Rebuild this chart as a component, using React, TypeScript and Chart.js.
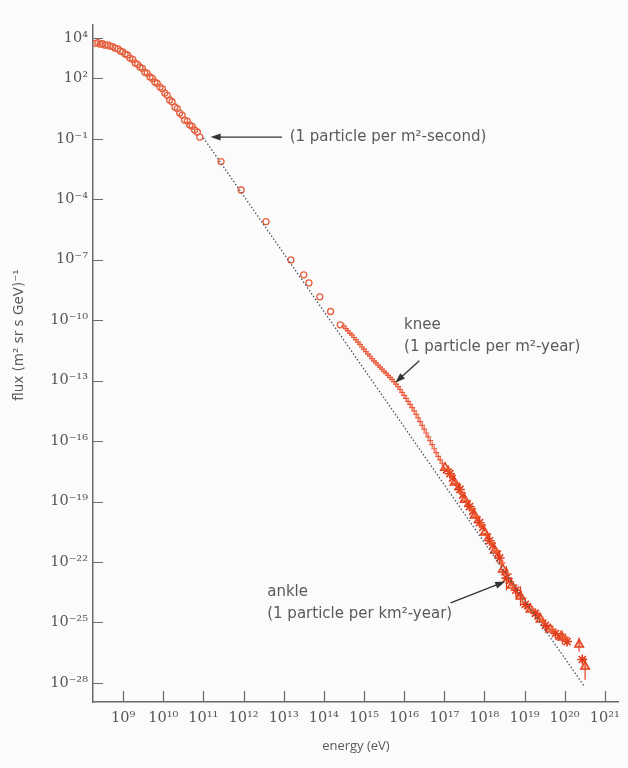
import React, { useEffect, useRef } from "react";
import { Chart, registerables } from "chart.js";

Chart.register(...registerables);

// ---- axis ticks (exponents of ten) ----
const xTickExponents = [9, 10, 11, 12, 13, 14, 15, 16, 17, 18, 19, 20, 21];
const yTickExponents = [4, 2, -1, -4, -7, -10, -13, -16, -19, -22, -25, -28];

// ---- data: log10(energy / eV), log10(flux) ----
const lowLogE = [8.31, 8.37, 8.43, 8.49, 8.55, 8.62, 8.68, 8.74, 8.8, 8.87, 8.93, 8.99, 9.05, 9.11, 9.17, 9.24, 9.3, 9.36, 9.42, 9.48, 9.54, 9.6, 9.67, 9.73, 9.79, 9.85, 9.92, 9.98, 10.04, 10.1, 10.16, 10.22, 10.29, 10.35, 10.41, 10.47, 10.53, 10.6, 10.66, 10.72, 10.78, 10.85, 10.91];
const lowLogFlux = [3.74, 3.78, 3.7, 3.72, 3.65, 3.66, 3.6, 3.58, 3.5, 3.47, 3.36, 3.32, 3.21, 3.16, 3.01, 2.94, 2.76, 2.7, 2.56, 2.5, 2.31, 2.25, 2.07, 2.0, 1.82, 1.75, 1.57, 1.48, 1.27, 1.16, 0.93, 0.84, 0.58, 0.5, 0.28, 0.18, -0.07, -0.12, -0.31, -0.38, -0.56, -0.66, -0.91];

const midLogE = [11.44, 11.94, 12.56, 13.18, 13.5, 13.63, 13.9, 14.17, 14.41];
const midLogFlux = [-2.13, -3.54, -5.11, -7.01, -7.75, -8.15, -8.84, -9.57, -10.23];

const kneeLogE = [14.5, 14.55, 14.6, 14.65, 14.7, 14.75, 14.8, 14.85, 14.9, 14.95, 15.0, 15.05, 15.1, 15.15, 15.2, 15.25, 15.3, 15.35, 15.4, 15.45, 15.5, 15.55, 15.6, 15.65, 15.7, 15.75, 15.8, 15.85, 15.9, 15.95, 16.0, 16.05, 16.1, 16.15, 16.2, 16.25, 16.3, 16.35, 16.4, 16.45, 16.5, 16.55, 16.6, 16.65, 16.7, 16.75, 16.8, 16.85, 16.9, 16.95];
const kneeLogFlux = [-10.3, -10.42, -10.52, -10.64, -10.73, -10.86, -10.97, -11.09, -11.2, -11.33, -11.44, -11.56, -11.68, -11.79, -11.91, -12.02, -12.12, -12.23, -12.33, -12.43, -12.54, -12.63, -12.74, -12.84, -12.94, -13.05, -13.17, -13.3, -13.44, -13.58, -13.73, -13.88, -14.03, -14.18, -14.34, -14.5, -14.67, -14.85, -15.03, -15.22, -15.41, -15.6, -15.79, -15.98, -16.18, -16.38, -16.57, -16.76, -16.93, -17.1];

const highALogE = [17.02, 17.26, 17.51, 17.76, 18.01, 18.26, 18.46, 18.68, 18.9, 19.15, 19.4, 19.64, 19.94, 20.36, 20.51];
const highALogFlux = [-17.32, -18.06, -18.91, -19.7, -20.54, -21.43, -22.37, -23.17, -23.71, -24.36, -24.85, -25.35, -25.75, -26.1, -27.19];

const highBLogE = [17.14, 17.39, 17.63, 17.88, 18.13, 18.38, 18.55, 18.78, 19.02, 19.27, 19.52, 19.77, 20.06, 20.44];
const highBLogFlux = [-17.62, -18.4, -19.25, -20.05, -20.95, -21.8, -22.8, -23.4, -24.1, -24.55, -25.15, -25.55, -25.95, -26.84];

const highCLogE = [17.05, 17.2, 17.33, 17.45, 17.58, 17.7, 17.82, 17.95, 18.08, 18.2, 18.33, 18.5, 18.62, 18.85, 19.08, 19.33, 19.58, 19.85];
const highCLogFlux = [-17.45, -17.85, -18.28, -18.7, -19.1, -19.5, -19.9, -20.3, -20.75, -21.2, -21.6, -22.5, -22.95, -23.6, -24.2, -24.7, -25.25, -25.7];

const highDLogE = [17.1, 17.18, 17.3, 17.42, 17.55, 17.68, 17.8, 17.92, 18.05, 18.17, 18.3, 18.42, 18.58, 18.72, 18.95, 19.2, 19.45, 19.7, 19.9, 20.02];
const highDLogFlux = [-17.4, -17.7, -18.1, -18.55, -18.95, -19.35, -19.75, -20.15, -20.6, -21.05, -21.45, -22.05, -22.6, -23.15, -23.8, -24.4, -24.9, -25.35, -25.6, -25.75];

// error bars (log10 energy, low / high log10 flux)
const errLogE = [18.55, 18.9, 19.94, 20.36, 20.51];
const errLogLow = [-23.4, -24.2, -26.1, -26.45, -27.85];
const errLogHigh = [-22.2, -23.2, -25.4, -25.75, -26.75];

// reference power-law (dotted)
const refLogE = [11.0, 20.5];
const refLogFlux = [-0.95, -28.2];

// annotation texts
const annotationTexts = [
  ["(1 particle per m\u00B2-second)"],
  ["knee", "(1 particle per m\u00B2-year)"],
  ["ankle", "(1 particle per km\u00B2-year)"],
];

// annotation placement (log10 coords): text anchor, arrow start, arrow tip
const annotationLayout = [
  { tx: 13.15, ty: -0.91, ax: 12.96, ay: -0.91, bx: 11.18, by: -0.91 },
  { tx: 16.0, ty: -10.23, ax: 16.38, ay: -12.01, bx: 15.78, by: -13.1 },
  { tx: 12.59, ty: -23.52, ax: 17.16, ay: -24.03, bx: 18.52, by: -22.97 },
];

const SUP: Record<string, string> = {
  "0": "\u2070", "1": "\u00B9", "2": "\u00B2", "3": "\u00B3", "4": "\u2074",
  "5": "\u2075", "6": "\u2076", "7": "\u2077", "8": "\u2078", "9": "\u2079", "-": "\u207B",
};
const pow10Label = (v: number) => {
  const e = Math.round(Math.log10(v));
  return "10" + String(e).split("").map((c) => SUP[c] || c).join("");
};

const pts = (xs: number[], ys: number[]) => xs.map((x, i) => ({ x: 10 ** x, y: 10 ** ys[i] }));

const bgPlugin = {
  id: "bg",
  beforeDraw(chart: any) {
    const { ctx, width, height } = chart;
    ctx.save();
    ctx.fillStyle = "#fbfbfb";
    ctx.fillRect(0, 0, width, height);
    ctx.restore();
  },
};

const innerTicksPlugin = {
  id: "innerTicks",
  beforeDatasetsDraw(chart: any) {
    const { ctx, chartArea, scales } = chart;
    const x = scales.x, y = scales.y;
    ctx.save();
    ctx.strokeStyle = "#6a6a6a";
    ctx.lineWidth = 1.2;
    ctx.beginPath();
    y.ticks.forEach((t: any) => {
      const py = Math.round(y.getPixelForValue(t.value)) + 0.5;
      ctx.moveTo(chartArea.left, py);
      ctx.lineTo(chartArea.left + 10, py);
    });
    x.ticks.forEach((t: any) => {
      const px = Math.round(x.getPixelForValue(t.value)) + 0.5;
      ctx.moveTo(px, chartArea.bottom);
      ctx.lineTo(px, chartArea.bottom - 11);
    });
    ctx.stroke();
    ctx.restore();
  },
};

const errorBarPlugin = {
  id: "errBars",
  afterDatasetsDraw(chart: any) {
    const { ctx, scales } = chart;
    ctx.save();
    ctx.strokeStyle = "#e0401e";
    ctx.lineWidth = 1.2;
    ctx.beginPath();
    errLogE.forEach((e, i) => {
      const px = scales.x.getPixelForValue(10 ** e);
      ctx.moveTo(px, scales.y.getPixelForValue(10 ** errLogLow[i]));
      ctx.lineTo(px, scales.y.getPixelForValue(10 ** errLogHigh[i]));
    });
    ctx.stroke();
    ctx.restore();
  },
};

const annotationPlugin = {
  id: "annotations",
  afterDatasetsDraw(chart: any) {
    const { ctx, scales } = chart;
    const X = (v: number) => scales.x.getPixelForValue(10 ** v);
    const Y = (v: number) => scales.y.getPixelForValue(10 ** v);
    ctx.save();
    ctx.font = '15px "DejaVu Sans"';
    ctx.fillStyle = "#5a5a5a";
    ctx.textAlign = "left";
    ctx.textBaseline = "middle";
    annotationTexts.forEach((lines, i) => {
      const L = annotationLayout[i];
      lines.forEach((line, j) => ctx.fillText(line, X(L.tx), Y(L.ty) + j * 22));
      const x0 = X(L.ax), y0 = Y(L.ay), x1 = X(L.bx), y1 = Y(L.by);
      const ang = Math.atan2(y1 - y0, x1 - x0);
      const head = 10, hw = 3.5;
      ctx.strokeStyle = "#333";
      ctx.lineWidth = 1.3;
      ctx.beginPath();
      ctx.moveTo(x0, y0);
      ctx.lineTo(x1 - head * 0.8 * Math.cos(ang), y1 - head * 0.8 * Math.sin(ang));
      ctx.stroke();
      ctx.fillStyle = "#333";
      ctx.beginPath();
      ctx.moveTo(x1, y1);
      ctx.lineTo(x1 - head * Math.cos(ang) + hw * Math.sin(ang), y1 - head * Math.sin(ang) - hw * Math.cos(ang));
      ctx.lineTo(x1 - head * Math.cos(ang) - hw * Math.sin(ang), y1 - head * Math.sin(ang) + hw * Math.cos(ang));
      ctx.closePath();
      ctx.fill();
      ctx.fillStyle = "#5a5a5a";
    });
    // y axis title
    ctx.translate(19, 335);
    ctx.rotate(-Math.PI / 2);
    ctx.textAlign = "center";
    ctx.font = '13.5px "DejaVu Sans"';
    ctx.fillText("flux (m\u00B2 sr s GeV)\u207B\u00B9", 0, 0);
    ctx.restore();
  },
};

export default function App() {
  const ref = useRef<HTMLCanvasElement | null>(null);
  useEffect(() => {
    if (!ref.current) return;
    const marker = "#e5603f";
    const chart = new Chart(ref.current, {
      type: "scatter",
      data: {
        datasets: [
          {
            type: "line",
            data: pts(refLogE, refLogFlux),
            borderColor: "#4b5663",
            borderWidth: 1.3,
            borderDash: [1.5, 2],
            pointRadius: 0,
            fill: false,
          } as any,
          {
            data: pts(lowLogE, lowLogFlux),
            pointStyle: "circle",
            pointRadius: 3,
            borderWidth: 1.3,
            borderColor: marker,
            backgroundColor: "rgba(255,255,255,0)",
          },
          {
            data: pts(midLogE, midLogFlux),
            pointStyle: "circle",
            pointRadius: 3,
            borderWidth: 1.3,
            borderColor: marker,
            backgroundColor: "rgba(255,255,255,0)",
          },
          {
            data: pts(kneeLogE, kneeLogFlux),
            pointStyle: "cross",
            pointRadius: 3,
            borderWidth: 1.2,
            borderColor: "#ea5a3c",
          },
          {
            data: pts(highDLogE, highDLogFlux),
            pointStyle: "cross",
            pointRadius: 4,
            borderWidth: 1.6,
            borderColor: "#ec5a2c",
          },
          {
            data: pts(highCLogE, highCLogFlux),
            pointStyle: "crossRot",
            pointRadius: 4.5,
            borderWidth: 1.7,
            borderColor: "#e23c1c",
          },
          {
            data: pts(highALogE, highALogFlux),
            pointStyle: "triangle",
            pointRadius: 5,
            borderWidth: 1.5,
            borderColor: "#e2401e",
            backgroundColor: "rgba(248,140,90,0.45)",
          },
          {
            data: pts(highBLogE, highBLogFlux),
            pointStyle: "star",
            pointRadius: 5,
            borderWidth: 1.6,
            borderColor: "#e03a1a",
          },
        ],
      },
      options: {
        animation: false,
        responsive: false,
        events: [],
        layout: { padding: { top: 25, right: 6, left: 0, bottom: 0 } },
        plugins: { legend: { display: false }, tooltip: { enabled: false } },
        scales: {
          x: {
            type: "logarithmic",
            min: 10 ** 8.25,
            max: 10 ** 21.35,
            afterFit: (s: any) => { s.height = 66; },
            afterBuildTicks: (s: any) => { s.ticks = xTickExponents.map((e) => ({ value: 10 ** e })); },
            grid: { display: false, drawTicks: false },
            border: { display: true, color: "#6a6a6a", width: 1.5 },
            ticks: {
              autoSkip: false,
              maxRotation: 0,
              padding: 8,
              color: "#555",
              font: { family: '"DejaVu Serif"', size: 14.5 },
              callback: (v: any) => pow10Label(Number(v)),
            },
            title: {
              display: true,
              text: "energy (eV)",
              color: "#5a5a5a",
              font: { family: '"Open Sans"', size: 13 },
              padding: { top: 0, bottom: 14 },
            },
          },
          y: {
            type: "logarithmic",
            min: 10 ** -28.95,
            max: 10 ** 4.65,
            afterFit: (s: any) => { s.width = 93; },
            afterBuildTicks: (s: any) => { s.ticks = yTickExponents.map((e) => ({ value: 10 ** e })); },
            grid: { display: false, drawTicks: false },
            border: { display: true, color: "#6a6a6a", width: 1.5 },
            ticks: {
              autoSkip: false,
              padding: 5,
              color: "#555",
              font: { family: '"DejaVu Serif"', size: 14.5 },
              callback: (v: any) => pow10Label(Number(v)),
            },
          },
        },
      },
      plugins: [bgPlugin, innerTicksPlugin, errorBarPlugin, annotationPlugin],
    } as any);
    return () => chart.destroy();
  }, []);
  return (
    <div style={{ position: "absolute", left: 0, top: 0, width: 628, height: 768, background: "#fbfbfb" }}>
      <canvas ref={ref} width={628} height={768} style={{ display: "block" }} />
    </div>
  );
}
